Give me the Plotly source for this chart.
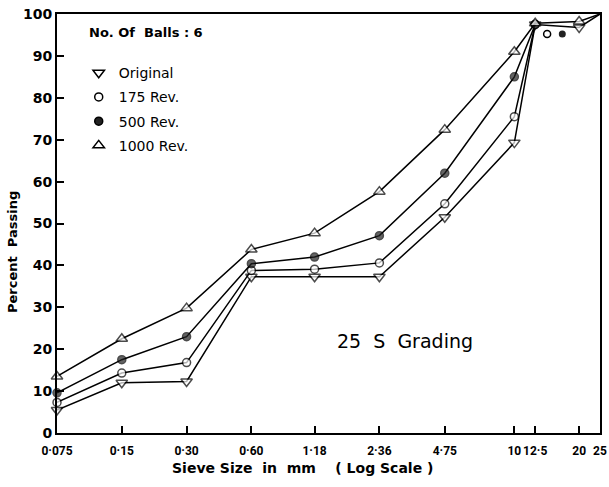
import math
import plotly.graph_objects as go

sieve = [0.075, 0.15, 0.30, 0.60, 1.18, 2.36, 4.75, 10, 12.5, 20, 25]
tick_labels = ["0·075", "0·15", "0·30", "0·60", "1·18", "2·36", "4·75", "10", "12·5", "20", "25"]

original = [5.5, 12.0, 12.3, 37.3, 37.3, 37.3, 51.5, 69.3, 97.5, 96.8, 100]
rev175 = [7.3, 14.3, 16.8, 38.8, 39.1, 40.6, 54.7, 75.5, 97.5]
rev500 = [9.6, 17.5, 23.0, 40.4, 42.0, 47.1, 62.0, 85.0, 97.5]
rev1000 = [13.5, 22.5, 29.8, 43.8, 47.7, 57.6, 72.4, 91.0, 97.8, 98.2, 100]

# isolated points plotted near the top right corner
extra175_x, extra175_y = [14.2], [95.2]
extra500_x, extra500_y = [16.7], [95.2]

FONT = "DejaVu Sans"
TICKFONT = "Roboto"

fig = go.Figure()

series = [
    ("Original", sieve, original, "triangle-down", "white", 10),
    ("175 Rev.", sieve[:len(rev175)], rev175, "circle", "white", 8),
    ("500 Rev.", sieve[:len(rev500)], rev500, "circle", "#222", 8),
    ("1000 Rev.", sieve, rev1000, "triangle-up", "white", 10),
]
for name, xs, ys, sym, fill, sz in series:
    sizes = [sz] * len(xs)
    if xs[-1] == 25:
        sizes[-1] = 0
    fig.add_trace(go.Scatter(
        x=xs, y=ys, name=name, mode="lines+markers", showlegend=False,
        line=dict(color="black", width=1.5), cliponaxis=False,
        marker=dict(symbol=sym, size=sizes, color=fill,
                    line=dict(color="black", width=1.5)),
    ))
    fig.add_trace(go.Scatter(
        x=[None], y=[None], name=name, mode="markers", showlegend=True,
        legendgroup=name,
        marker=dict(symbol=sym, size=sz, color=fill, line=dict(color="black", width=1.5)),
    ))

fig.add_trace(go.Scatter(x=extra175_x, y=extra175_y, mode="markers", showlegend=False,
                         marker=dict(symbol="circle", size=7, color="white",
                                     line=dict(color="black", width=1.5))))
fig.add_trace(go.Scatter(x=extra500_x, y=extra500_y, mode="markers", showlegend=False,
                         marker=dict(symbol="circle", size=7, color="#222")))

fig.update_layout(
    width=609, height=487,
    margin=dict(l=57, r=9, t=14, b=54, autoexpand=False),
    paper_bgcolor="white", plot_bgcolor="white",
    font=dict(family=FONT, color="black"),
    showlegend=True,
    legend=dict(x=0.04, y=0.897, xanchor="left", yanchor="top",
                bgcolor="rgba(0,0,0,0)", font=dict(size=14, family=FONT),
                tracegroupgap=3, itemwidth=30),
    xaxis=dict(type="log", range=[math.log10(0.075), math.log10(25)], automargin=False,
               tickmode="array", tickvals=sieve, ticktext=tick_labels, tickangle=0,
               ticks="inside", ticklen=7, tickwidth=1.5, tickcolor="black",
               ticklabelstandoff=6,
               showgrid=False, zeroline=False,
               showline=True, linecolor="black", linewidth=2, mirror=True,
               tickfont=dict(size=12, family=TICKFONT, weight="bold")),
    yaxis=dict(range=[0, 100], tickmode="array", tickvals=list(range(0, 101, 10)),
               automargin=False,
               ticks="inside", ticklen=7, tickwidth=1.5, tickcolor="black",
               showgrid=False, zeroline=False,
               showline=True, linecolor="black", linewidth=2, mirror=True,
               tickfont=dict(size=14, family=FONT, weight="bold")),
)

fig.add_annotation(text="Sieve Size  in  mm    ( Log Scale )", xref="paper", yref="paper",
                   x=(302 - 57) / 543, y=-(468 - 433) / 419, xanchor="center", yanchor="middle",
                   showarrow=False, font=dict(size=14, family=FONT, weight="bold"))
fig.add_annotation(text="Percent  Passing", xref="paper", yref="paper", textangle=-90,
                   x=(12 - 57) / 543, y=(433 - 252) / 419, xanchor="center", yanchor="middle",
                   showarrow=False, font=dict(size=13, family=FONT, weight="bold"))
fig.add_annotation(text="No. Of  Balls : 6", xref="paper", yref="paper",
                   x=0.055, y=0.955, xanchor="left", yanchor="middle", showarrow=False,
                   font=dict(size=13, family=FONT, weight="bold"))
fig.add_annotation(text="25  S  Grading", xref="paper", yref="paper",
                   x=(405 - 57) / 543, y=(433 - 341) / 419, xanchor="center", yanchor="middle",
                   showarrow=False, font=dict(size=19, family=FONT))

fig.write_html("out.html")
